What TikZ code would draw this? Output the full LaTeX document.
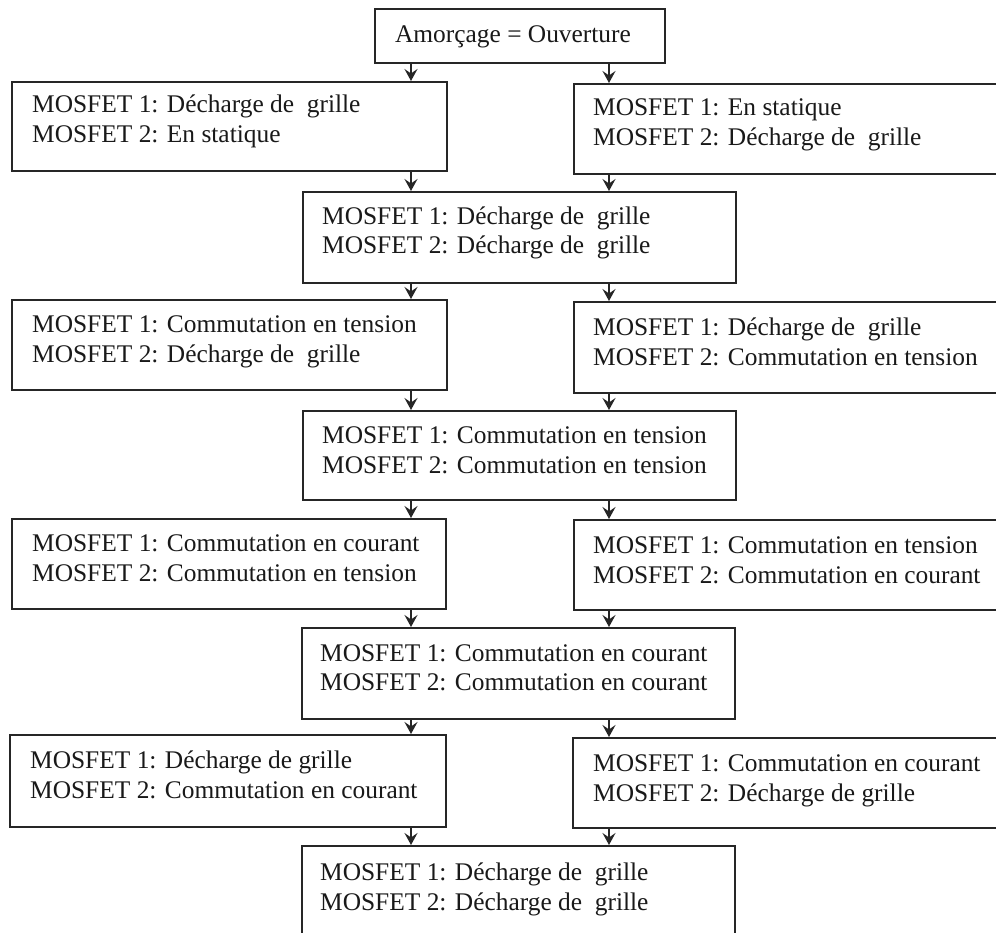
\documentclass[tikz,border=0pt]{standalone}
\usepackage{fontspec}
\setmainfont{Liberation Serif}
\usetikzlibrary{arrows.meta}
\begin{document}
\begin{tikzpicture}[x=1pt,y=-1pt,
  box/.style={draw=black!85, line width=2pt, inner sep=0pt, anchor=north west},
  txt/.style={anchor=base west, inner sep=0pt, text=black!90, font=\fontsize{25.4}{29.5}\selectfont},
  arr/.style={-{Stealth[length=12pt,width=13pt,inset=4.5pt]}, line width=1.8pt, draw=black!85}]
\clip (0,0) rectangle (996,933);
\fill[white] (0,0) rectangle (996,933);
\coordinate (cl) at (411,0);
\coordinate (cr) at (609,0);
% top
\node[box, minimum width=290pt, minimum height=54pt] (top) at (374,8) {};
\node[txt, anchor=base] (topt) at (513,43) {Amorçage = Ouverture};
% row 1
\node[box, minimum width=435pt, minimum height=89pt] (r1l) at (11,81) {};
\node[txt] (r1la) at (32,113) {MOSFET 1: Décharge de\ \ grille};
\node[txt] (r1lb) at (32,143) {MOSFET 2: En statique};
\node[box, minimum width=440pt, minimum height=90pt] (r1r) at (573,83) {};
\node[txt] (r1ra) at (593,116) {MOSFET 1: En statique};
\node[txt] (r1rb) at (593,146) {MOSFET 2: Décharge de\ \ grille};
% row 2
\node[box, minimum width=433pt, minimum height=91pt] (r2) at (302,191) {};
\node[txt] (r2a) at (322,225) {MOSFET 1: Décharge de\ \ grille};
\node[txt] (r2b) at (322,254) {MOSFET 2: Décharge de\ \ grille};
% row 3
\node[box, minimum width=435pt, minimum height=90pt] (r3l) at (11,299) {};
\node[txt] (r3la) at (32,332) {MOSFET 1: Commutation en tension};
\node[txt] (r3lb) at (32,362) {MOSFET 2: Décharge de\ \ grille};
\node[box, minimum width=440pt, minimum height=91pt] (r3r) at (573,301) {};
\node[txt] (r3ra) at (593,335) {MOSFET 1: Décharge de\ \ grille};
\node[txt] (r3rb) at (593,365) {MOSFET 2: Commutation en tension};
% row 4
\node[box, minimum width=433pt, minimum height=89pt] (r4) at (302,410) {};
\node[txt] (r4a) at (322,443) {MOSFET 1: Commutation en tension};
\node[txt] (r4b) at (322,473) {MOSFET 2: Commutation en tension};
% row 5
\node[box, minimum width=434pt, minimum height=90pt] (r5l) at (11,518) {};
\node[txt] (r5la) at (32,551) {MOSFET 1: Commutation en courant};
\node[txt] (r5lb) at (32,581) {MOSFET 2: Commutation en tension};
\node[box, minimum width=440pt, minimum height=90pt] (r5r) at (573,519) {};
\node[txt] (r5ra) at (593,553) {MOSFET 1: Commutation en tension};
\node[txt] (r5rb) at (593,583) {MOSFET 2: Commutation en courant};
% row 6
\node[box, minimum width=433pt, minimum height=91pt] (r6) at (301,627) {};
\node[txt] (r6a) at (320,661) {MOSFET 1: Commutation en courant};
\node[txt] (r6b) at (320,690) {MOSFET 2: Commutation en courant};
% row 7
\node[box, minimum width=436pt, minimum height=92pt] (r7l) at (9,734) {};
\node[txt] (r7la) at (30,768) {MOSFET 1: Décharge de grille};
\node[txt] (r7lb) at (30,798) {MOSFET 2: Commutation en courant};
\node[box, minimum width=440pt, minimum height=90pt] (r7r) at (572,737) {};
\node[txt] (r7ra) at (593,771) {MOSFET 1: Commutation en courant};
\node[txt] (r7rb) at (593,801) {MOSFET 2: Décharge de grille};
% row 8
\node[box, minimum width=433pt, minimum height=100pt] (r8) at (301,845) {};
\node[txt] (r8a) at (320,880) {MOSFET 1: Décharge de\ \ grille};
\node[txt] (r8b) at (320,910) {MOSFET 2: Décharge de\ \ grille};
% arrows
\draw[arr] (top.south -| cl) -- (r1l.north -| cl);
\draw[arr] (top.south -| cr) -- (r1r.north -| cr);
\draw[arr] (r1l.south -| cl) -- (r2.north -| cl);
\draw[arr] (r1r.south -| cr) -- (r2.north -| cr);
\draw[arr] (r2.south -| cl) -- (r3l.north -| cl);
\draw[arr] (r2.south -| cr) -- (r3r.north -| cr);
\draw[arr] (r3l.south -| cl) -- (r4.north -| cl);
\draw[arr] (r3r.south -| cr) -- (r4.north -| cr);
\draw[arr] (r4.south -| cl) -- (r5l.north -| cl);
\draw[arr] (r4.south -| cr) -- (r5r.north -| cr);
\draw[arr] (r5l.south -| cl) -- (r6.north -| cl);
\draw[arr] (r5r.south -| cr) -- (r6.north -| cr);
\draw[arr] (r6.south -| cl) -- (r7l.north -| cl);
\draw[arr] (r6.south -| cr) -- (r7r.north -| cr);
\draw[arr] (r7l.south -| cl) -- (r8.north -| cl);
\draw[arr] (r7r.south -| cr) -- (r8.north -| cr);
\end{tikzpicture}
\end{document}
